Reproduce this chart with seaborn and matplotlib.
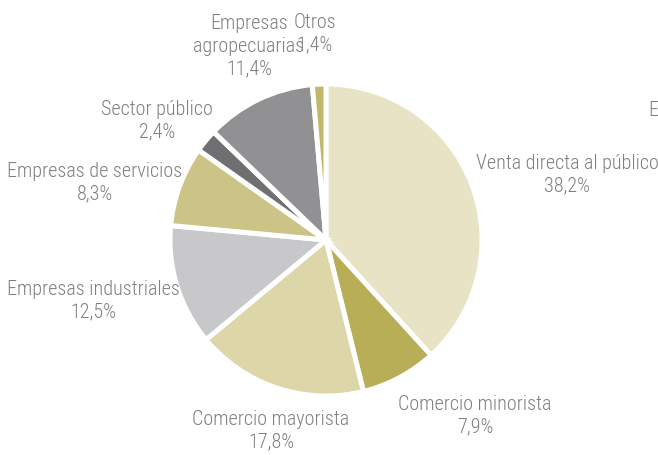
import matplotlib
matplotlib.use("Agg")
import matplotlib.pyplot as plt
import seaborn as sns

categories = ["Venta directa al público", "Comercio minorista", "Comercio mayorista",
              "Empresas industriales", "Empresas de servicios", "Sector público",
              "Empresas\nagropecuarias", "Otros"]
shares = [38.2, 7.9, 17.8, 12.5, 8.3, 2.4, 11.4, 1.4]
pct_labels = ["38,2%", "7,9%", "17,8%", "12,5%", "8,3%", "2,4%", "11,4%", "1,4%"]
colors = ["#E9E3C5", "#B8AE57", "#DDD6A8", "#C8C8CA", "#CCC486", "#6F6F71", "#919193", "#C2B86A"]

sns.set_theme(style="white")
plt.rcParams['font.family'] = ['Roboto Condensed', 'DejaVu Sans']
plt.rcParams['font.weight'] = 300

fig = plt.figure(figsize=(6.58, 4.55), dpi=100)
ax = fig.add_axes([0, 0, 1, 1])

# pie centre / radius in pixels of the reference
cx, cy, r = 326, 240, 156

ax.pie(shares, colors=sns.color_palette(colors), startangle=90, counterclock=False,
       radius=1, wedgeprops=dict(edgecolor="white", linewidth=3.6))

ax.set_xlim(-cx / r, (658 - cx) / r)
ax.set_ylim(-(455 - cy) / r, cy / r)
ax.set_aspect("equal")
ax.axis("off")

# label anchor positions (pixel coords of text centre)
label_pos = [(567, 175), (475, 416), (271, 431), (93, 301), (95, 183), (157, 121), (249, 46), (315, 34)]

text_color = "#7F7F7F"
for cat, pct, (px, py) in zip(categories, pct_labels, label_pos):
    ax.text((px - cx) / r, (cy - py) / r, f"{cat}\n{pct}", ha="center", va="center",
            fontsize=14.5, color=text_color, linespacing=1.25, fontweight=300)

# clipped label at the right edge
ax.text((648 - cx) / r, (cy - 110) / r, "En", ha="left", va="center",
        fontsize=14.5, color=text_color, fontweight=300)

fig.savefig("out.png", dpi=100)
